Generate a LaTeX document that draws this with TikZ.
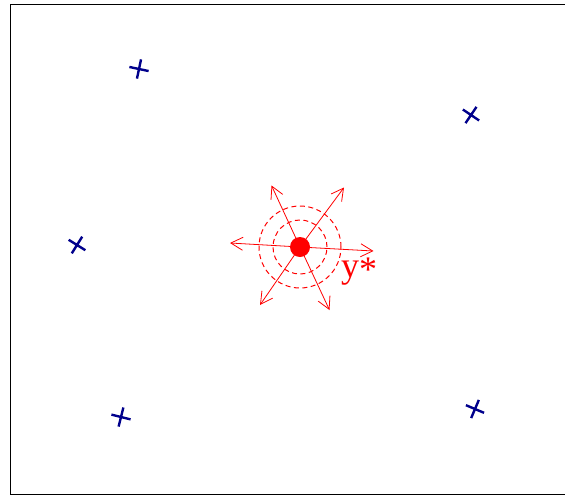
\documentclass[tikz,border=0pt]{standalone}
\usepackage{fontspec}
\newfontfamily\labfont{Liberation Serif}
\usetikzlibrary{arrows.meta,shapes.misc}
\definecolor{navy}{rgb}{0,0,0.55}
\tikzset{
  xmark/.style={draw=navy, cross out, line width=2.4pt, minimum size=11.5pt, inner sep=0pt},
  ray/.style={draw=red, line width=0.8pt, -{Straight Barb[length=12pt,width=13pt,line width=0.8pt]}},
  ring/.style={draw=red, line width=1pt, dash pattern=on 5pt off 3.5pt},
}
\begin{document}
\begin{tikzpicture}[x=1pt,y=-1pt]
\useasboundingbox (0,0) rectangle (565,496);
\begin{scope}
\clip (0,0) rectangle (565,496);
\draw[line width=1pt] (10,4) rectangle (580,494);
\end{scope}
% crosses
\node[xmark, rotate=33] (k1) at (139,69) {};
\node[xmark, rotate=11] (k2) at (471,115) {};
\node[xmark, rotate=13] (k3) at (77,245) {};
\node[xmark, rotate=31] (k4) at (121,417) {};
\node[xmark, rotate=22] (k5) at (475,409) {};
% centre
\coordinate (c) at (300,247);
\node[ring, circle, minimum size=82pt, inner sep=0pt] (r2) at (c) {};
\node[ring, circle, minimum size=54pt, inner sep=0pt] (r1) at (c) {};
\coordinate (t1) at (271.5,185.5);
\coordinate (t2) at (344,187.5);
\coordinate (t3) at (230,243);
\coordinate (t4) at (373.5,251);
\coordinate (t5) at (260,305);
\coordinate (t6) at (329.5,310);
\foreach \t in {t1,t2,t3,t4,t5,t6} \draw[ray] (c) -- (\t);
\node[circle, fill=red, minimum size=20pt, inner sep=0pt] (dot) at (c) {};
\node[anchor=base west, inner sep=0pt, text=red, font=\labfont\fontsize{36}{36}\selectfont] (lab) at (341,277) {y\raisebox{-4pt}{*}};
\end{tikzpicture}
\end{document}
